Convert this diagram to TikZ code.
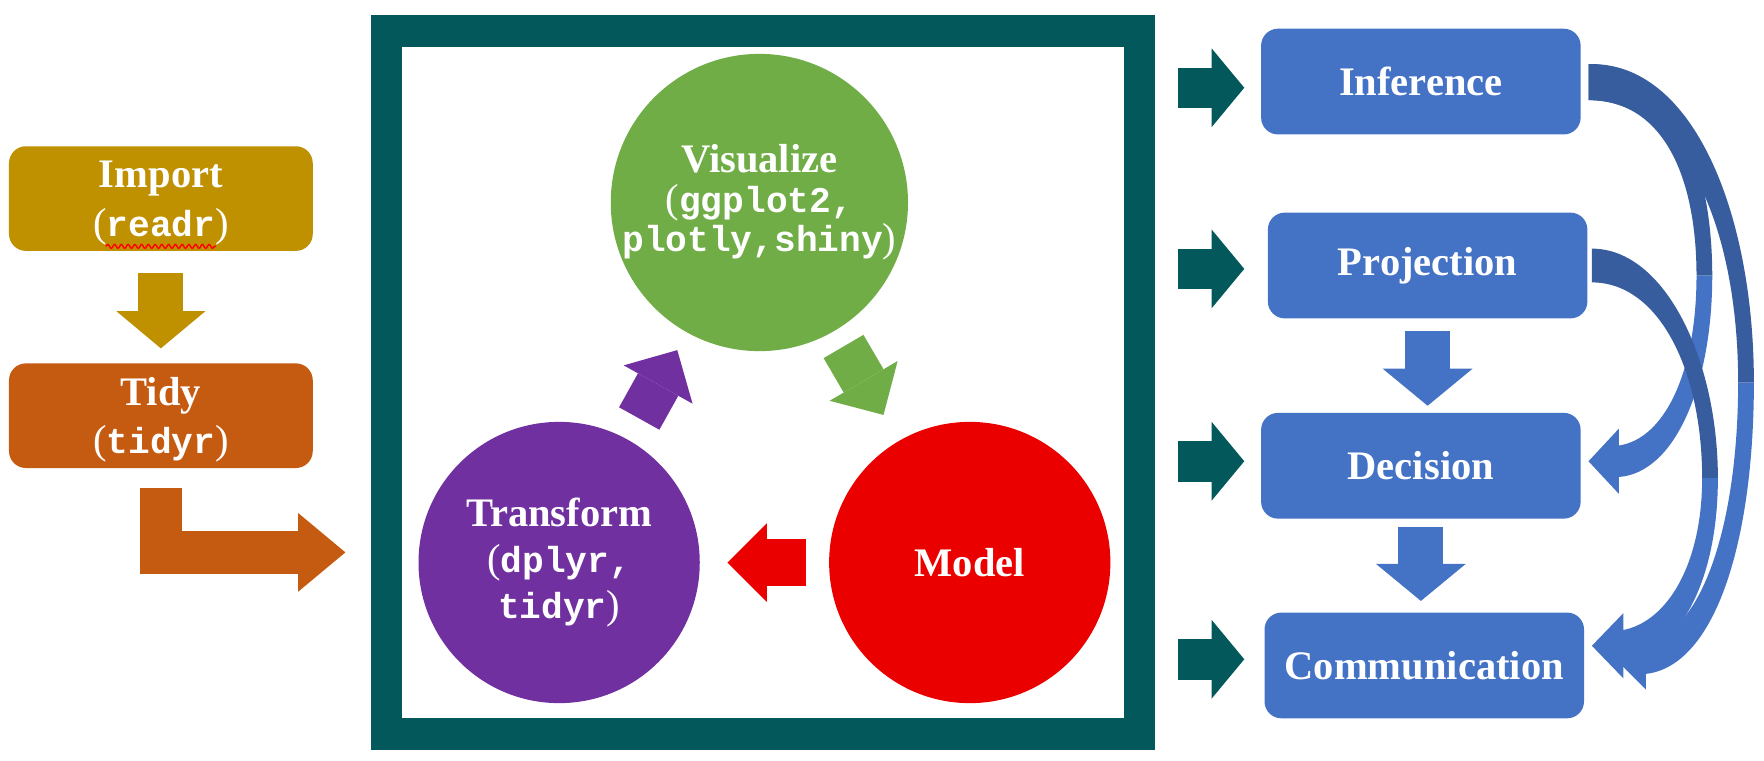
\documentclass[tikz,border=0pt]{standalone}
\usepackage{fontspec}
\setmainfont{Liberation Serif}
\newfontfamily\monofam{Liberation Mono}
\usetikzlibrary{arrows.meta,calc,decorations.pathmorphing}

\definecolor{gold}{HTML}{BF9000}
\definecolor{rust}{HTML}{C55A11}
\definecolor{deepteal}{HTML}{02585A}
\definecolor{leaf}{HTML}{70AD47}
\definecolor{grape}{HTML}{7030A0}
\definecolor{scarlet}{HTML}{EB0000}
\definecolor{steel}{HTML}{4472C4}
\definecolor{steeldark}{HTML}{385D9E}

\newcommand{\code}[1]{{\fontsize{18.3}{18.3}\selectfont\monofam\bfseries #1}}
\newcommand{\openp}{{\mdseries(}}
\newcommand{\closep}{{\mdseries)}}

\tikzset{
    srcbox/.style={rounded corners=3mm, minimum width=54mm, minimum height=18.6mm,
        inner sep=0pt, text=white, align=center, text depth=0pt,
        font=\fontsize{20.5}{24.5}\selectfont\bfseries},
    cyc/.style={circle, minimum size=50mm, inner sep=0pt, text=white, align=center},
    outbox/.style={fill=steel, rounded corners=3mm, minimum width=56.8mm, minimum height=18.8mm,
        inner sep=0pt, text=white, font=\fontsize{20.5}{22}\selectfont\bfseries},
    fat/.style n args={4}{draw=#1, line width=#2,
        -{Triangle[width=#3,length=#4,line width=0pt]}},
    squiggle/.style={draw=red, line width=0.25mm, decorate,
        decoration={snake, amplitude=0.35mm, segment length=1.2mm}}
}

\begin{document}
\begin{tikzpicture}[x=0.2mm, y=-0.2mm]
    \fill[white] (0,0) rectangle (1568,676);
    \useasboundingbox (0,0) rectangle (1568,676);

    % import and tidy
    \node[srcbox, fill=gold] (import) at (143,176.5) {Import\\\openp\code{readr}\closep};
    \node[srcbox, fill=rust] (tidy) at (143,369.5) {Tidy\\\openp\code{tidyr}\closep};
    \draw[squiggle] (94,219) -- (192,219);
    \draw[fat={gold}{8mm}{15.8mm}{6.6mm}] ([yshift=-3.8mm]import.south) -- ([yshift=2.6mm]tidy.north);
    \coordinate (enter) at (307,491);
    \draw[fat={rust}{7.6mm}{14mm}{8.4mm}] ([yshift=-3.4mm]tidy.south) |- (enter);

    % the cycle
    \node[draw=deepteal, line width=5.6mm, minimum width=133.9mm, minimum height=125mm,
        inner sep=0pt] (frame) at (678.25,340) {};
    \node[cyc, fill=leaf, font=\fontsize{20.5}{19.9}\selectfont\bfseries] (visualize) at (675,180)
        {Visualize\\\openp\code{ggplot2,}\\\code{plotly,shiny}\closep};
    \node[cyc, fill=grape, font=\fontsize{20.5}{23.3}\selectfont\bfseries] (transform) at (497,500)
        {Transform\\\openp\code{dplyr,}\\\code{tidyr}\closep};
    \node[cyc, fill=scarlet, font=\fontsize{20.5}{23.3}\selectfont\bfseries] (model) at (862,500) {Model};
    \draw[fat={grape}{8.2mm}{14mm}{7mm}] ($(transform)!0.4!(visualize)$) -- ($(transform)!0.59!(visualize)$);
    \draw[fat={leaf}{8.2mm}{14mm}{7mm}] ($(visualize)!0.4!(model)$) -- ($(visualize)!0.59!(model)$);
    \draw[fat={scarlet}{8.2mm}{14mm}{7mm}] ($(model)!0.4!(transform)$) -- ($(model)!0.59!(transform)$);

    % outputs
    \node[outbox] (inference) at (1263,72.5) {Inference};
    \node[outbox] (projection) at (1269,236) {Projection};
    \node[outbox] (decision) at (1263,414) {Decision};
    \node[outbox] (communication) at (1266,591.5) {Communication};
    \foreach \b/\dy in {inference/-1.1mm,projection/-0.6mm,decision/0.8mm,communication/1.1mm}
        \draw[fat={deepteal}{7.2mm}{14mm}{5.8mm}] ([yshift=\dy]1047,0 |- \b) -- ([yshift=\dy]1106,0 |- \b);
    \draw[fat={steel}{8mm}{16mm}{6.6mm}] ([yshift=-2.2mm]projection.south) -- ([yshift=1.2mm]projection.south |- decision.north);
    \draw[fat={steel}{8mm}{16mm}{6.6mm}] ([yshift=-1.4mm]decision.south) -- ([yshift=2mm]decision.south |- communication.north);

    % curved arrows on the right
    \fill[steeldark] (1412,57) .. controls (1490,57) and (1522,150) .. (1522,245)
        -- (1508,245) .. controls (1508,160) and (1480,89) .. (1412,89) -- cycle;
    \fill[steel] (1522,245) .. controls (1522,340) and (1490,420) .. (1439,424)
        -- (1439,439) -- (1412,410) -- (1439,381) -- (1439,396)
        .. controls (1480,390) and (1508,330) .. (1508,245) -- cycle;
    \fill[steeldark] (1415,221) .. controls (1480,221) and (1527,320) .. (1527,425)
        -- (1513,425) .. controls (1513,330) and (1475,251) .. (1415,251) -- cycle;
    \fill[steel] (1527,425) .. controls (1527,520) and (1490,582) .. (1443,588)
        -- (1443,603) -- (1415,574) -- (1443,545) -- (1443,560)
        .. controls (1483,552) and (1513,500) .. (1513,425) -- cycle;
    \fill[steeldark] (1412,57) .. controls (1505,54) and (1559,190) .. (1559,340)
        -- (1545,340) .. controls (1545,200) and (1495,89) .. (1412,89) -- cycle;
    \fill[steel] (1559,340) .. controls (1559,480) and (1525,592) .. (1463,599)
        -- (1463,613) -- (1435,585) -- (1463,557) -- (1463,571)
        .. controls (1515,562) and (1545,460) .. (1545,340) -- cycle;
\end{tikzpicture}
\end{document}
